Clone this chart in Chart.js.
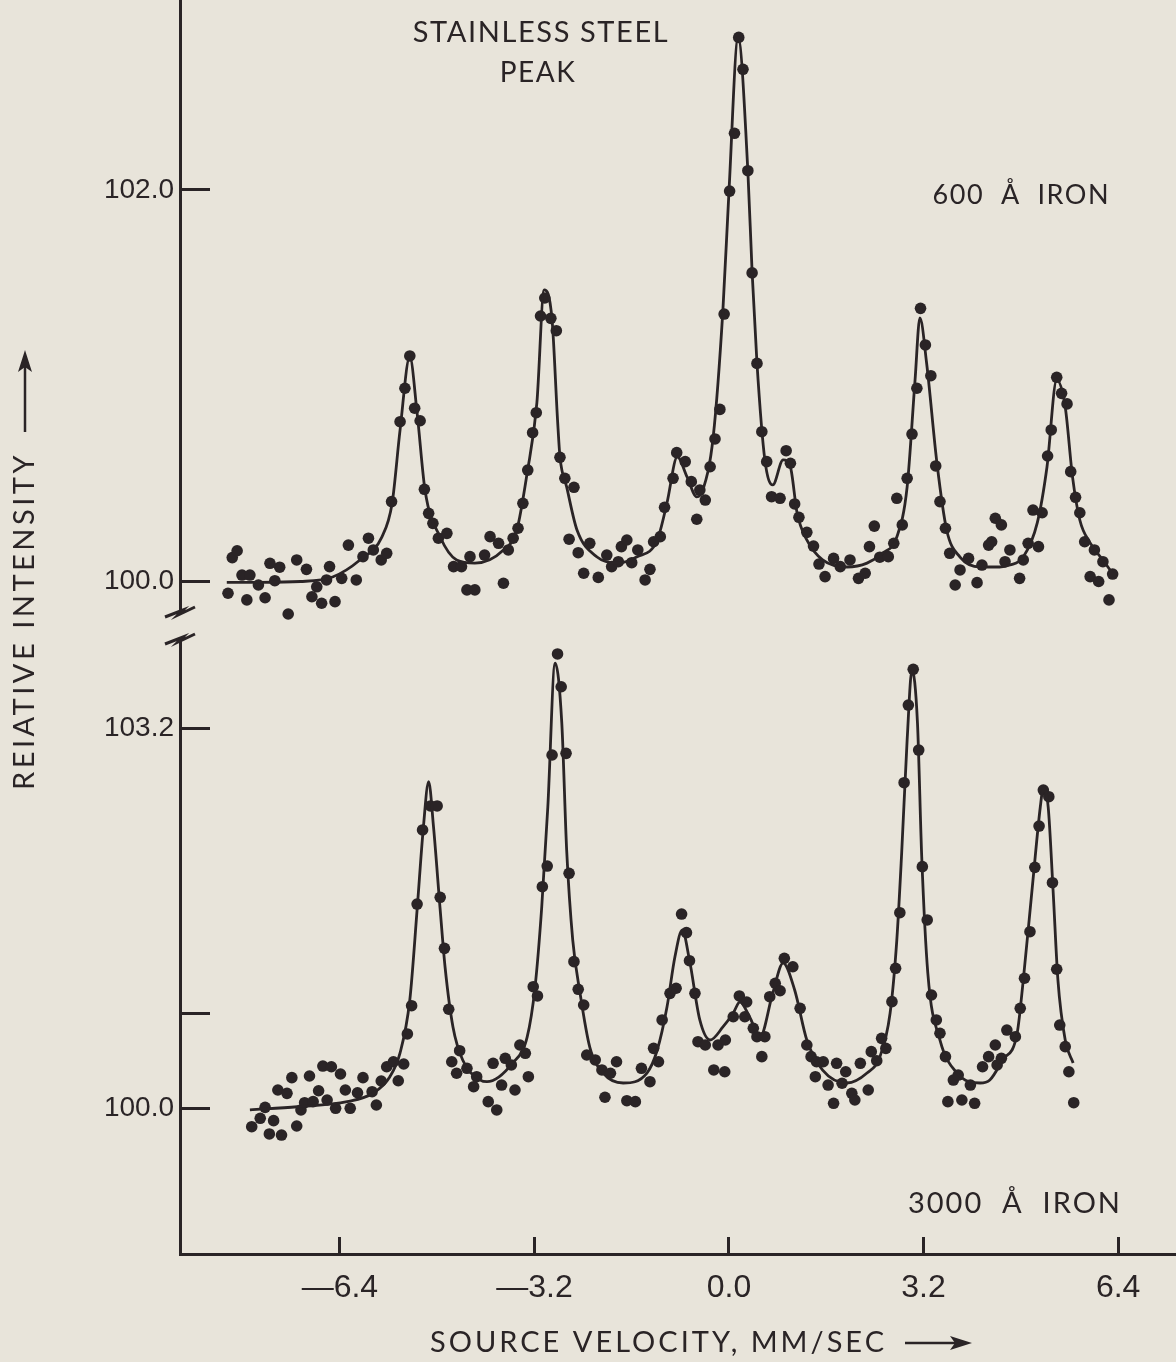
<!DOCTYPE html>
<html>
<head>
<meta charset="utf-8">
<script src="https://cdn.jsdelivr.net/npm/chart.js@4.4.1/dist/chart.umd.min.js"></script>
<style>
  html, body { margin: 0; padding: 0; background: #e8e4da; }
  #wrap { width: 1176px; height: 1362px; }
</style>
</head>
<body>
<div id="wrap"><canvas id="spectrum" width="1176" height="1362"></canvas></div>
<script>
// 600 Å iron film: measured points (velocity mm/sec, relative intensity)
var thinVel = [-8.24, -8.17, -8.09, -8.01, -7.93, -7.88, -7.74, -7.63, -7.55, -7.47, -7.39, -7.25, -7.11, -6.95, -6.86,
  -6.78, -6.70, -6.62, -6.57, -6.48, -6.37, -6.26, -6.13, -6.02, -5.93, -5.85, -5.72, -5.63, -5.55, -5.41, -5.33,
  -5.25, -5.17, -5.08, -5.01, -4.94, -4.87, -4.78, -4.64, -4.53, -4.40, -4.31, -4.26, -4.18, -4.02, -3.93, -3.79,
  -3.71, -3.63, -3.55, -3.47, -3.39, -3.31, -3.23, -3.17, -3.10, -3.03, -2.93, -2.84, -2.78, -2.70, -2.63, -2.55,
  -2.48, -2.39, -2.29, -2.15, -2.01, -1.93, -1.82, -1.77, -1.68, -1.60, -1.50, -1.38, -1.30, -1.24, -1.13, -1.06,
  -0.92, -0.86, -0.72, -0.62, -0.53, -0.48, -0.39, -0.31, -0.23, -0.15, -0.08, 0.01, 0.09, 0.16, 0.23, 0.31, 0.38,
  0.46, 0.54, 0.62, 0.70, 0.84, 0.94, 1.01, 1.08, 1.15, 1.28, 1.39, 1.48, 1.58, 1.72, 1.83, 1.99, 2.13, 2.24, 2.31,
  2.39, 2.48, 2.62, 2.71, 2.76, 2.85, 2.93, 3.01, 3.09, 3.15, 3.23, 3.32, 3.40, 3.47, 3.56, 3.63, 3.72, 3.80, 3.94,
  4.08, 4.16, 4.27, 4.32, 4.38, 4.48, 4.54, 4.62, 4.78, 4.84, 4.92, 5.00, 5.09, 5.15, 5.24, 5.30, 5.39, 5.47, 5.56,
  5.62, 5.70, 5.77, 5.85, 5.94, 6.01, 6.08, 6.15, 6.25, 6.31];
var thinInt = [99.940, 100.122, 100.157, 100.033, 99.906, 100.033, 99.982, 99.917, 100.093, 100.004, 100.073, 99.834,
  100.110, 100.062, 99.922, 99.973, 99.889, 100.008, 100.076, 99.897, 100.016, 100.186, 100.008, 100.127, 100.221,
  100.161, 100.110, 100.144, 100.408, 100.816, 100.987, 101.152, 100.885, 100.821, 100.471, 100.348, 100.297,
  100.221, 100.246, 100.076, 100.076, 99.957, 100.127, 99.957, 100.135, 100.229, 100.195, 99.991, 100.161, 100.221,
  100.272, 100.399, 100.569, 100.760, 100.862, 101.356, 101.448, 101.344, 101.281, 100.634, 100.527, 100.216,
  100.481, 100.147, 100.042, 100.195, 100.021, 100.135, 100.076, 100.101, 100.178, 100.212, 100.096, 100.161,
  100.008, 100.062, 100.203, 100.229, 100.379, 100.527, 100.658, 100.612, 100.510, 100.318, 100.467, 100.416,
  100.586, 100.728, 100.879, 101.366, 101.994, 102.289, 102.779, 102.616, 102.098, 101.576, 101.114, 100.765,
  100.612, 100.433, 100.425, 100.668, 100.604, 100.396, 100.328, 100.251, 100.181, 100.089, 100.025, 100.118,
  100.076, 100.110, 100.016, 100.042, 100.178, 100.283, 100.124, 100.127, 100.195, 100.425, 100.289, 100.527,
  100.753, 100.987, 101.395, 101.208, 101.051, 100.590, 100.408, 100.272, 100.144, 99.982, 100.059, 100.118,
  99.994, 100.084, 100.186, 100.203, 100.323, 100.289, 100.101, 100.161, 100.016, 100.110, 100.195, 100.365,
  100.178, 100.351, 100.641, 100.774, 101.043, 100.961, 100.907, 100.561, 100.430, 100.351, 100.203, 100.025,
  100.161, 100.000, 100.101, 99.906, 100.038];

// 600 Å iron film: fitted curve
var thinFitVel = [-8.26, -7.71, -7.05, -6.52, -6.07, -5.71, -5.54, -5.41, -5.25, -5.13, -5.00, -4.75, -4.48, -4.18,
  -3.71, -3.49, -3.32, -3.16, -3.04, -2.91, -2.82, -2.78, -2.67, -2.50, -2.17, -1.84, -1.52, -1.18, -1.02, -0.85,
  -0.69, -0.53, -0.43, -0.26, -0.10, 0.00, 0.15, 0.31, 0.38, 0.46, 0.59, 0.72, 0.89, 1.01, 1.12, 1.28, 1.54, 1.94,
  2.27, 2.53, 2.76, 2.93, 3.06, 3.14, 3.25, 3.42, 3.58, 3.80, 4.13, 4.45, 4.62, 4.84, 5.07, 5.23, 5.39, 5.53, 5.65,
  5.77, 5.94, 6.15, 6.35];
var thinFitInt = [99.996, 99.996, 100.000, 100.023, 100.110, 100.227, 100.401, 100.774, 101.147, 100.861, 100.467,
  100.227, 100.110, 100.094, 100.161, 100.263, 100.554, 100.912, 101.489, 101.336, 100.825, 100.636, 100.483,
  100.263, 100.125, 100.094, 100.125, 100.212, 100.401, 100.636, 100.534, 100.432, 100.467, 100.738, 101.387,
  101.995, 102.776, 102.098, 101.581, 101.116, 100.621, 100.493, 100.621, 100.585, 100.350, 100.212, 100.110,
  100.074, 100.094, 100.146, 100.227, 100.483, 101.029, 101.346, 101.116, 100.605, 100.263, 100.125, 100.074,
  100.074, 100.084, 100.125, 100.299, 100.585, 101.029, 100.891, 100.534, 100.314, 100.197, 100.110, 100.023];

// 3000 Å iron film: measured points
var thickVel = [-7.85, -7.71, -7.63, -7.56, -7.49, -7.42, -7.36, -7.27, -7.19, -7.11, -7.04, -6.98, -6.90, -6.84,
  -6.75, -6.68, -6.61, -6.54, -6.47, -6.39, -6.31, -6.23, -6.11, -6.02, -5.87, -5.80, -5.72, -5.63, -5.52, -5.44,
  -5.35, -5.29, -5.22, -5.13, -5.04, -4.91, -4.80, -4.75, -4.68, -4.61, -4.56, -4.48, -4.43, -4.31, -4.20, -4.15,
  -3.96, -3.88, -3.82, -3.74, -3.68, -3.58, -3.52, -3.44, -3.35, -3.30, -3.22, -3.15, -3.07, -2.99, -2.91, -2.82,
  -2.76, -2.68, -2.63, -2.55, -2.48, -2.39, -2.34, -2.20, -2.09, -2.04, -1.95, -1.85, -1.68, -1.54, -1.44, -1.30,
  -1.24, -1.16, -1.10, -0.97, -0.87, -0.78, -0.70, -0.65, -0.56, -0.51, -0.39, -0.25, -0.18, -0.07, -0.06, 0.07,
  0.17, 0.26, 0.29, 0.40, 0.46, 0.54, 0.59, 0.67, 0.76, 0.84, 0.91, 1.05, 1.17, 1.28, 1.35, 1.42, 1.44, 1.55, 1.63,
  1.72, 1.77, 1.86, 1.92, 2.02, 2.07, 2.16, 2.29, 2.34, 2.43, 2.51, 2.58, 2.68, 2.74, 2.81, 2.88, 2.95, 3.03, 3.12,
  3.18, 3.26, 3.33, 3.41, 3.47, 3.56, 3.60, 3.69, 3.77, 3.83, 3.97, 4.04, 4.17, 4.27, 4.38, 4.41, 4.48, 4.57, 4.71,
  4.79, 4.86, 4.95, 5.03, 5.10, 5.17, 5.26, 5.32, 5.39, 5.44, 5.53, 5.59, 5.67];
var thickInt = [99.845, 99.916, 100.008, 99.784, 99.896, 100.154, 99.775, 100.126, 100.258, 99.851, 99.986, 100.047,
  100.272, 100.056, 100.148, 100.356, 100.070, 100.350, 100.000, 100.289, 100.154, 100.000, 100.131, 100.258,
  100.140, 100.028, 100.230, 100.350, 100.392, 100.232, 100.373, 100.626, 100.864, 101.720, 102.344, 102.546,
  102.546, 101.777, 101.347, 100.834, 100.392, 100.295, 100.485, 100.337, 100.182, 100.266, 100.056, 100.379,
  99.986, 100.196, 100.421, 100.365, 100.154, 100.533, 100.463, 100.266, 101.024, 100.946, 101.866, 102.040,
  102.975, 103.826, 103.550, 102.989, 101.979, 101.235, 101.002, 100.870, 100.449, 100.407, 100.323, 100.093,
  100.295, 100.392, 100.064, 100.056, 100.337, 100.224, 100.505, 100.392, 100.744, 100.968, 101.011, 101.636,
  101.479, 101.243, 100.968, 100.561, 100.533, 100.323, 100.533, 100.308, 100.575, 100.771, 100.946, 100.771,
  100.895, 100.674, 100.603, 100.435, 100.603, 100.940, 101.053, 100.990, 101.263, 101.192, 100.842, 100.533,
  100.435, 100.266, 100.392, 100.392, 100.196, 100.042, 100.379, 100.211, 100.308, 100.126, 100.070, 100.379,
  100.154, 100.477, 100.401, 100.589, 100.505, 100.898, 101.179, 101.647, 102.742, 103.396, 103.697, 103.017,
  102.035, 101.586, 100.954, 100.744, 100.632, 100.435, 100.056, 100.238, 100.280, 100.070, 100.196, 100.042,
  100.350, 100.435, 100.533, 100.365, 100.421, 100.659, 100.603, 100.842, 101.095, 101.487, 102.029, 102.377,
  102.680, 102.624, 101.900, 101.171, 100.701, 100.519, 100.308, 100.047];

// 3000 Å iron film: fitted curve
var thickFitVel = [-7.88, -7.10, -6.28, -5.85, -5.58, -5.41, -5.25, -5.13, -5.03, -4.94, -4.86, -4.75, -4.67, -4.54,
  -4.38, -4.09, -3.98, -3.56, -3.32, -3.19, -3.08, -2.98, -2.86, -2.75, -2.67, -2.57, -2.45, -2.29, -2.07, -1.74,
  -1.35, -1.18, -1.02, -0.89, -0.77, -0.65, -0.48, -0.31, -0.10, 0.07, 0.18, 0.34, 0.51, 0.72, 0.89, 1.08, 1.28,
  1.54, 1.94, 2.27, 2.48, 2.65, 2.76, 2.84, 2.93, 3.01, 3.10, 3.17, 3.27, 3.47, 3.75, 4.13, 4.29, 4.50, 4.74, 4.84,
  5.00, 5.12, 5.17, 5.25, 5.33, 5.41, 5.53, 5.66];
var thickFitInt = [99.986, 100.013, 100.056, 100.129, 100.264, 100.466, 100.912, 101.671, 102.345, 102.750, 102.369,
  101.671, 101.190, 100.685, 100.407, 100.238, 100.224, 100.381, 100.600, 101.021, 101.695, 102.537, 103.749,
  103.244, 102.175, 101.417, 100.971, 100.516, 100.297, 100.213, 100.297, 100.491, 100.853, 101.274, 101.501,
  101.249, 100.744, 100.575, 100.685, 100.803, 100.895, 100.769, 100.600, 100.971, 101.223, 100.996, 100.575,
  100.322, 100.213, 100.297, 100.432, 100.803, 101.417, 102.150, 103.102, 103.691, 103.244, 102.116, 101.139,
  100.575, 100.297, 100.213, 100.238, 100.407, 100.634, 101.080, 101.923, 102.537, 102.697, 102.537, 101.838,
  101.080, 100.575, 100.381];

// axis ticks
var velTicks = [-6.4, -3.2, 0.0, 3.2, 6.4];
var thinTicks = [100.0, 102.0];
var thickTicks = [100.0, 100.8, 103.2];
var thickTickLabels = ['100.0', '', '103.2'];

var ink = '#2a2426';
var paper = '#e8e4da';

function pairs(xs, ys) {
  return xs.map(function (x, i) { return { x: x, y: ys[i] }; });
}

function fixedTicks(values) {
  return function (scale) {
    scale.ticks = values.map(function (v) { return { value: v }; });
  };
}

var tickFont = { family: '"Liberation Sans", Arial, sans-serif', size: 28 };

function yAxis(min, max, weight, order, values, labelFn) {
  return {
    type: 'linear',
    position: 'left',
    stack: 'intensity',
    stackWeight: weight,
    weight: order,
    min: min,
    max: max,
    afterBuildTicks: fixedTicks(values),
    afterFit: function (scale) {
      scale.width = 180;
      scale.paddingTop = 0;
      scale.paddingBottom = 0;
    },
    grid: { drawOnChartArea: false, tickLength: -30, tickWidth: 3, tickColor: ink, color: ink },
    border: { display: true, color: ink, width: 3 },
    ticks: { padding: 36, color: ink, font: tickFont, callback: labelFn }
  };
}

// page decoration: paper, axis break, annotations and axis titles
var decor = {
  id: 'decor',
  beforeDraw: function (chart) {
    var c = chart.ctx;
    c.save();
    c.fillStyle = paper;
    c.fillRect(0, 0, chart.width, chart.height);
    c.restore();
  },
  afterDraw: function (chart) {
    var c = chart.ctx;
    var yTop = chart.scales.yTop, yBot = chart.scales.yBot, x = chart.scales.x;
    var ax = yTop.right, split = yTop.bottom;

    c.save();
    // break in the intensity axis
    c.fillStyle = paper;
    c.fillRect(ax - 5, split - 12, 10, 24);
    c.strokeStyle = ink;
    c.lineWidth = 3;
    [split - 14, split + 13].forEach(function (y) {
      c.beginPath();
      c.moveTo(ax - 15, y + 5);
      c.lineTo(ax + 3, y - 2);
      c.lineTo(ax - 2, y + 3);
      c.lineTo(ax + 15, y - 5);
      c.stroke();
    });

    c.fillStyle = ink;
    c.textBaseline = 'middle';
    function text(str, px, py, size, spacing, align) {
      c.font = size + 'px Lato, "Noto Sans", sans-serif';
      c.letterSpacing = spacing + 'px';
      c.textAlign = align;
      c.fillText(str, px, py);
    }

    text('STAINLESS STEEL', 541, 33, 29, 1.6, 'center');
    text('PEAK', 538, 73, 28, 1.5, 'center');
    text('600  Å  IRON', 1110, yTop.getPixelForValue(101.97), 27, 1.5, 'right');
    text('3000  Å  IRON', 1122, yBot.getPixelForValue(99.2), 29, 2, 'right');

    // velocity title with arrow
    text('SOURCE VELOCITY, MM/SEC', 430, 1343, 29, 3, 'left');
    c.lineWidth = 2.5;
    c.beginPath();
    c.moveTo(905, 1343);
    c.lineTo(958, 1343);
    c.stroke();
    c.beginPath();
    c.moveTo(972, 1343);
    c.lineTo(950, 1336);
    c.lineTo(955, 1343);
    c.lineTo(950, 1350);
    c.closePath();
    c.fill();

    // intensity title with arrow
    c.save();
    c.translate(25, 790);
    c.rotate(-Math.PI / 2);
    text('REIATIVE INTENSITY', 0, 0, 29, 3.5, 'left');
    c.restore();
    c.beginPath();
    c.moveTo(25, 432);
    c.lineTo(25, 365);
    c.stroke();
    c.beginPath();
    c.moveTo(25, 350);
    c.lineTo(18, 372);
    c.lineTo(25, 367);
    c.lineTo(32, 372);
    c.closePath();
    c.fill();
    c.restore();
  }
};

var fitLine = {
  showLine: true,
  borderColor: ink,
  borderWidth: 2.8,
  pointRadius: 0,
  cubicInterpolationMode: 'monotone',
  fill: false
};
var dots = {
  showLine: false,
  pointRadius: 5.8,
  pointBackgroundColor: ink,
  pointBorderWidth: 0
};

new Chart(document.getElementById('spectrum').getContext('2d'), {
  type: 'scatter',
  data: {
    datasets: [
      Object.assign({ label: '600 Å fit', data: pairs(thinFitVel, thinFitInt), yAxisID: 'yTop' }, fitLine),
      Object.assign({ label: '600 Å', data: pairs(thinVel, thinInt), yAxisID: 'yTop' }, dots),
      Object.assign({ label: '3000 Å fit', data: pairs(thickFitVel, thickFitInt), yAxisID: 'yBot' }, fitLine),
      Object.assign({ label: '3000 Å', data: pairs(thickVel, thickInt), yAxisID: 'yBot' }, dots)
    ]
  },
  options: {
    responsive: false,
    animation: false,
    events: [],
    layout: { padding: 0, autoPadding: false },
    plugins: { legend: { display: false }, tooltip: { enabled: false } },
    scales: {
      x: {
        type: 'linear',
        position: 'bottom',
        min: -9.0296,
        max: 7.3520,
        afterBuildTicks: fixedTicks(velTicks),
        afterFit: function (scale) {
          scale.height = 108;
          scale.paddingLeft = 0;
          scale.paddingRight = 0;
        },
        grid: { drawOnChartArea: false, tickLength: -17, tickWidth: 3, tickColor: ink, color: ink },
        border: { display: true, color: ink, width: 3 },
        ticks: {
          padding: 32,
          color: ink,
          font: { family: '"Liberation Sans", Arial, sans-serif', size: 32 },
          callback: function (v) {
            return v < 0 ? '\u2014' + Math.abs(v).toFixed(1) : v.toFixed(1);
          }
        }
      },
      yTop: yAxis(99.7727, 102.9699, 626, 2, thinTicks, function (v) { return v.toFixed(1); }),
      yBot: yAxis(98.7731, 104.0615, 628, 1, thickTicks, function (v, i) { return thickTickLabels[i]; })
    }
  },
  plugins: [decor]
});
</script>
</body>
</html>
